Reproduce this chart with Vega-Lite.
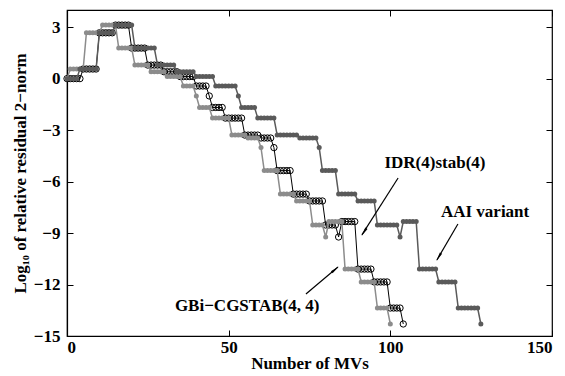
{
"$schema": "https://vega.github.io/schema/vega-lite/v6.json",
"width": 485, "height": 326,
"autosize": {"type": "none"},
"padding": {"left": 67, "top": 10, "right": 13, "bottom": 40},
"background": "white",
"config": {
 "view": {"stroke": "black", "strokeWidth": 1.2},
 "axis": {"domainColor": "black", "domainWidth": 1.2, "tickColor": "black", "tickWidth": 1, "grid": false,
  "labelFont": "Liberation Serif", "labelFontSize": 17, "labelFontWeight": "bold", "labelColor": "black",
  "titleFont": "Liberation Serif", "titleFontSize": 17, "titleFontWeight": "bold", "titleColor": "black"}
},
"datasets": {
 "gbi": [{"x":0,"y":0},{"x":1,"y":0.56},{"x":2,"y":0.56},{"x":3,"y":0.56},{"x":4,"y":0.56},{"x":5,"y":0.56},{"x":6,"y":2.67},{"x":7,"y":2.67},{"x":8,"y":2.67},{"x":9,"y":2.67},{"x":10,"y":2.67},{"x":11,"y":3.12},{"x":12,"y":3.12},{"x":13,"y":3.12},{"x":14,"y":3.12},{"x":15,"y":3.12},{"x":16,"y":1.78},{"x":17,"y":1.78},{"x":18,"y":1.78},{"x":19,"y":1.78},{"x":20,"y":1.78},{"x":21,"y":0.79},{"x":22,"y":0.79},{"x":23,"y":0.79},{"x":24,"y":0.79},{"x":25,"y":0.79},{"x":26,"y":0.4},{"x":27,"y":0.4},{"x":28,"y":0.4},{"x":29,"y":0.4},{"x":30,"y":0.4},{"x":31,"y":0.12},{"x":32,"y":0.12},{"x":33,"y":0.12},{"x":34,"y":0.12},{"x":35,"y":0.12},{"x":36,"y":-0.43},{"x":37,"y":-0.43},{"x":38,"y":-0.43},{"x":39,"y":-0.43},{"x":40,"y":-1.01},{"x":41,"y":-1.68},{"x":42,"y":-1.68},{"x":43,"y":-1.68},{"x":44,"y":-1.68},{"x":45,"y":-2.3},{"x":46,"y":-2.3},{"x":47,"y":-2.3},{"x":48,"y":-2.3},{"x":49,"y":-2.3},{"x":50,"y":-2.3},{"x":51,"y":-3.29},{"x":52,"y":-3.29},{"x":53,"y":-3.29},{"x":54,"y":-3.29},{"x":55,"y":-3.29},{"x":56,"y":-3.46},{"x":57,"y":-3.46},{"x":58,"y":-3.46},{"x":59,"y":-3.46},{"x":60,"y":-4.02},{"x":61,"y":-5.36},{"x":62,"y":-5.36},{"x":63,"y":-5.36},{"x":64,"y":-5.36},{"x":65,"y":-5.36},{"x":66,"y":-6.73},{"x":67,"y":-6.73},{"x":68,"y":-6.73},{"x":69,"y":-6.73},{"x":70,"y":-6.73},{"x":71,"y":-7.13},{"x":72,"y":-7.13},{"x":73,"y":-7.13},{"x":74,"y":-7.13},{"x":75,"y":-7.13},{"x":76,"y":-8.53},{"x":77,"y":-8.53},{"x":78,"y":-8.53},{"x":79,"y":-8.53},{"x":80,"y":-9.23},{"x":81,"y":-8.33},{"x":82,"y":-8.33},{"x":83,"y":-8.33},{"x":84,"y":-8.33},{"x":85,"y":-8.33},{"x":86,"y":-11.1},{"x":87,"y":-11.1},{"x":88,"y":-11.1},{"x":89,"y":-11.1},{"x":90,"y":-11.1},{"x":91,"y":-11.85},{"x":92,"y":-11.85},{"x":93,"y":-11.85},{"x":94,"y":-11.85},{"x":95,"y":-11.85},{"x":96,"y":-13.37},{"x":97,"y":-13.37},{"x":98,"y":-13.37},{"x":99,"y":-13.37},{"x":100,"y":-14.3}],
 "idr": [{"x":0,"y":0},{"x":1,"y":0},{"x":2,"y":0},{"x":3,"y":0},{"x":4,"y":0},{"x":5,"y":0.56},{"x":6,"y":0.56},{"x":7,"y":0.56},{"x":8,"y":0.56},{"x":9,"y":0.56},{"x":10,"y":2.67},{"x":11,"y":2.67},{"x":12,"y":2.67},{"x":13,"y":2.67},{"x":14,"y":2.67},{"x":15,"y":3.12},{"x":16,"y":3.12},{"x":17,"y":3.12},{"x":18,"y":3.12},{"x":19,"y":3.12},{"x":20,"y":1.78},{"x":21,"y":1.78},{"x":22,"y":1.78},{"x":23,"y":1.78},{"x":24,"y":1.78},{"x":25,"y":0.79},{"x":26,"y":0.79},{"x":27,"y":0.79},{"x":28,"y":0.79},{"x":29,"y":0.79},{"x":30,"y":0.4},{"x":31,"y":0.4},{"x":32,"y":0.4},{"x":33,"y":0.4},{"x":34,"y":0.4},{"x":35,"y":0.12},{"x":36,"y":0.12},{"x":37,"y":0.12},{"x":38,"y":0.12},{"x":39,"y":0.12},{"x":40,"y":-0.43},{"x":41,"y":-0.43},{"x":42,"y":-0.43},{"x":43,"y":-0.43},{"x":44,"y":-1.01},{"x":45,"y":-1.68},{"x":46,"y":-1.68},{"x":47,"y":-1.68},{"x":48,"y":-1.68},{"x":49,"y":-2.3},{"x":50,"y":-2.3},{"x":51,"y":-2.3},{"x":52,"y":-2.3},{"x":53,"y":-2.3},{"x":54,"y":-2.3},{"x":55,"y":-3.29},{"x":56,"y":-3.29},{"x":57,"y":-3.29},{"x":58,"y":-3.29},{"x":59,"y":-3.29},{"x":60,"y":-3.46},{"x":61,"y":-3.46},{"x":62,"y":-3.46},{"x":63,"y":-3.46},{"x":64,"y":-4.02},{"x":65,"y":-5.36},{"x":66,"y":-5.36},{"x":67,"y":-5.36},{"x":68,"y":-5.36},{"x":69,"y":-5.36},{"x":70,"y":-6.73},{"x":71,"y":-6.73},{"x":72,"y":-6.73},{"x":73,"y":-6.73},{"x":74,"y":-6.73},{"x":75,"y":-7.13},{"x":76,"y":-7.13},{"x":77,"y":-7.13},{"x":78,"y":-7.13},{"x":79,"y":-7.13},{"x":80,"y":-8.53},{"x":81,"y":-8.53},{"x":82,"y":-8.53},{"x":83,"y":-8.53},{"x":84,"y":-9.23},{"x":85,"y":-8.33},{"x":86,"y":-8.33},{"x":87,"y":-8.33},{"x":88,"y":-8.33},{"x":89,"y":-8.33},{"x":90,"y":-11.1},{"x":91,"y":-11.1},{"x":92,"y":-11.1},{"x":93,"y":-11.1},{"x":94,"y":-11.1},{"x":95,"y":-11.85},{"x":96,"y":-11.85},{"x":97,"y":-11.85},{"x":98,"y":-11.85},{"x":99,"y":-11.85},{"x":100,"y":-13.37},{"x":101,"y":-13.37},{"x":102,"y":-13.37},{"x":103,"y":-13.37},{"x":104,"y":-14.3}],
 "aai": [{"x":0,"y":0},{"x":1,"y":0},{"x":2,"y":0},{"x":3,"y":0},{"x":4,"y":0.56},{"x":5,"y":0.56},{"x":6,"y":0.56},{"x":7,"y":0.56},{"x":8,"y":0.56},{"x":9,"y":0.56},{"x":10,"y":2.67},{"x":11,"y":2.67},{"x":12,"y":2.67},{"x":13,"y":2.67},{"x":14,"y":2.67},{"x":15,"y":3.12},{"x":16,"y":3.12},{"x":17,"y":3.12},{"x":18,"y":3.12},{"x":19,"y":3.12},{"x":20,"y":3.12},{"x":21,"y":1.78},{"x":22,"y":1.78},{"x":23,"y":1.78},{"x":24,"y":1.78},{"x":25,"y":1.78},{"x":26,"y":1.78},{"x":27,"y":1.78},{"x":28,"y":0.79},{"x":29,"y":0.79},{"x":30,"y":0.79},{"x":31,"y":0.79},{"x":32,"y":0.79},{"x":33,"y":0.79},{"x":34,"y":0.4},{"x":35,"y":0.4},{"x":36,"y":0.4},{"x":37,"y":0.4},{"x":38,"y":0.4},{"x":39,"y":0.4},{"x":40,"y":0.12},{"x":41,"y":0.12},{"x":42,"y":0.12},{"x":43,"y":0.12},{"x":44,"y":0.12},{"x":45,"y":0.12},{"x":46,"y":-0.43},{"x":47,"y":-0.43},{"x":48,"y":-0.43},{"x":49,"y":-0.43},{"x":50,"y":-0.43},{"x":51,"y":-0.43},{"x":52,"y":-0.43},{"x":53,"y":-1.01},{"x":54,"y":-1.68},{"x":55,"y":-1.68},{"x":56,"y":-1.68},{"x":57,"y":-1.68},{"x":58,"y":-1.68},{"x":59,"y":-2.3},{"x":60,"y":-2.3},{"x":61,"y":-2.3},{"x":62,"y":-2.3},{"x":63,"y":-2.3},{"x":64,"y":-2.3},{"x":65,"y":-3.29},{"x":66,"y":-3.29},{"x":67,"y":-3.29},{"x":68,"y":-3.29},{"x":69,"y":-3.29},{"x":70,"y":-3.29},{"x":71,"y":-3.29},{"x":72,"y":-3.46},{"x":73,"y":-3.46},{"x":74,"y":-3.46},{"x":75,"y":-3.46},{"x":76,"y":-3.46},{"x":77,"y":-3.46},{"x":78,"y":-4.02},{"x":79,"y":-5.36},{"x":80,"y":-5.36},{"x":81,"y":-5.36},{"x":82,"y":-5.36},{"x":83,"y":-5.36},{"x":84,"y":-6.73},{"x":85,"y":-6.73},{"x":86,"y":-6.73},{"x":87,"y":-6.73},{"x":88,"y":-6.73},{"x":89,"y":-6.73},{"x":90,"y":-7.13},{"x":91,"y":-7.13},{"x":92,"y":-7.13},{"x":93,"y":-7.13},{"x":94,"y":-7.13},{"x":95,"y":-7.13},{"x":96,"y":-8.53},{"x":97,"y":-8.53},{"x":98,"y":-8.53},{"x":99,"y":-8.53},{"x":100,"y":-8.53},{"x":101,"y":-8.53},{"x":102,"y":-8.53},{"x":103,"y":-9.23},{"x":104,"y":-8.33},{"x":105,"y":-8.33},{"x":106,"y":-8.33},{"x":107,"y":-8.33},{"x":108,"y":-8.33},{"x":109,"y":-11.1},{"x":110,"y":-11.1},{"x":111,"y":-11.1},{"x":112,"y":-11.1},{"x":113,"y":-11.1},{"x":114,"y":-11.1},{"x":115,"y":-11.85},{"x":116,"y":-11.85},{"x":117,"y":-11.85},{"x":118,"y":-11.85},{"x":119,"y":-11.85},{"x":120,"y":-11.85},{"x":121,"y":-13.37},{"x":122,"y":-13.37},{"x":123,"y":-13.37},{"x":124,"y":-13.37},{"x":125,"y":-13.37},{"x":126,"y":-13.37},{"x":127,"y":-13.37},{"x":128,"y":-14.3}],
 "arrows": [{"x":102.4,"y":-5.79,"x2":91.2,"y2":-9.11,"hx":92.1,"hy":-8.87,"a":212.3},{"x":120.9,"y":-8.47,"x2":114.4,"y2":-10.57,"hx":115.2,"hy":-10.32,"a":210.3},{"x":73.9,"y":-12.55,"x2":83.8,"y2":-10.98,"hx":82.6,"hy":-11.17,"a":49.8}],
 "labels": [{"x":113.8,"y":-4.92,"t":"IDR(4)stab(4)"},{"x":129.3,"y":-7.77,"t":"AAI variant"},{"x":55.7,"y":-13.25,"t":"GBi−CGSTAB(4, 4)"}]
},
"layer": [
 {
  "encoding": {
   "x": {"field": "x", "type": "quantitative", "scale": {"domain": [0, 150], "nice": false, "zero": false},
    "axis": {"values": [0, 50, 100, 150], "title": "Number of MVs", "tickSize": -6, "labelPadding": 9, "titlePadding": 0}},
   "y": {"field": "y", "type": "quantitative", "scale": {"domain": [-15, 4], "nice": false, "zero": false},
    "axis": {"values": [-15, -12, -9, -6, -3, 0, 3], "title": "Log₁₀ of relative residual 2−norm", "tickSize": -6, "labelPadding": 13, "titlePadding": 4}}
  },
  "layer": [
   {"data": {"name": "idr"}, "mark": {"type": "line", "color": "black", "strokeWidth": 1}},
   {"data": {"name": "idr"}, "mark": {"type": "point", "shape": "circle", "filled": false, "stroke": "black", "strokeWidth": 1, "size": 40, "opacity": 1}},
   {"data": {"name": "gbi"}, "mark": {"type": "line", "color": "#8c8c8c", "strokeWidth": 1.5}},
   {"data": {"name": "gbi"}, "mark": {"type": "point", "shape": "circle", "filled": true, "color": "#8c8c8c", "size": 25, "opacity": 1}},
   {"data": {"name": "aai"}, "mark": {"type": "line", "color": "#5a5a5a", "strokeWidth": 1.5}},
   {"data": {"name": "aai"}, "mark": {"type": "point", "shape": "circle", "filled": true, "color": "#5a5a5a", "size": 25, "opacity": 1}},
   {"data": {"name": "arrows"}, "mark": {"type": "rule", "color": "black", "strokeWidth": 1.2},
    "encoding": {"x2": {"field": "x2"}, "y2": {"field": "y2"}}},
   {"data": {"name": "arrows"}, "mark": {"type": "point", "shape": "wedge", "filled": true, "color": "black", "size": 110, "opacity": 1},
    "encoding": {"x": {"field": "hx", "type": "quantitative"}, "y": {"field": "hy", "type": "quantitative"}, "angle": {"field": "a", "type": "quantitative", "scale": null}}},
   {"data": {"name": "labels"}, "mark": {"type": "text", "font": "Liberation Serif", "fontSize": 17, "fontWeight": "bold", "color": "black", "align": "center", "baseline": "middle"},
    "encoding": {"text": {"field": "t"}}}
  ]
 },
 {
  "data": {"values": [{"x": 0, "y": 0}]},
  "mark": {"type": "point", "opacity": 0},
  "encoding": {
   "x": {"field": "x", "type": "quantitative", "scale": {"domain": [0, 150], "nice": false, "zero": false},
    "axis": {"orient": "top", "values": [0, 50, 100, 150], "labels": false, "title": null, "tickSize": -6, "domain": false}},
   "y": {"field": "y", "type": "quantitative", "scale": {"domain": [-15, 4], "nice": false, "zero": false},
    "axis": {"orient": "right", "values": [-15, -12, -9, -6, -3, 0, 3], "labels": false, "title": null, "tickSize": -6, "domain": false}}
  }
 }
],
"resolve": {"axis": {"x": "independent", "y": "independent"}}
}
